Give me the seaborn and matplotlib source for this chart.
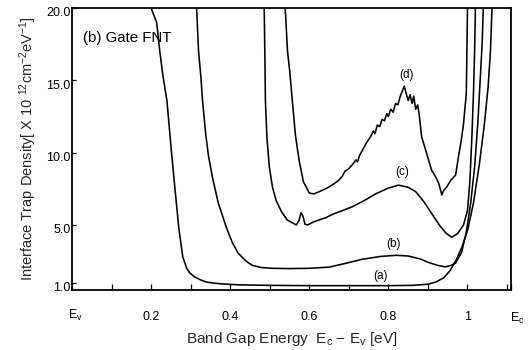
import numpy as np
import pandas as pd
import matplotlib
matplotlib.use("Agg")
import matplotlib.pyplot as plt
import matplotlib.transforms as mtransforms
import seaborn as sns

# ---- data ----
a_x = [0.20, 0.214, 0.222, 0.23, 0.24, 0.25, 0.26, 0.27, 0.28, 0.29, 0.297, 0.31, 0.325, 0.34,
       0.36, 0.38, 0.42, 0.5, 0.6, 0.7, 0.8, 0.86, 0.9, 0.92, 0.94, 0.955, 0.97, 0.985, 1.0,
       1.015, 1.03, 1.042, 1.052, 1.058, 1.062]
a_y = [20, 19.0, 17.0, 15.3, 13.6, 10.5, 7.6, 4.8, 2.8, 2.0, 1.7, 1.4, 1.2, 1.05,
       0.97, 0.92, 0.86, 0.82, 0.8, 0.8, 0.8, 0.82, 0.9, 1.05, 1.35, 1.8, 2.5, 3.4, 4.6,
       6.5, 9.2, 11.8, 14.5, 17, 20]

b_x = [0.315, 0.32, 0.326, 0.33, 0.338, 0.345, 0.355, 0.37, 0.39, 0.405, 0.42, 0.44, 0.456,
       0.48, 0.506, 0.55, 0.6, 0.65, 0.693, 0.733, 0.78, 0.82, 0.85, 0.88, 0.90, 0.925, 0.944,
       0.958, 0.97, 0.985, 0.997, 1.008, 1.018, 1.026, 1.032, 1.037, 1.04]
b_y = [20, 17, 15.2, 13.6, 11.3, 9.8, 8.3, 6.5, 4.85, 3.8, 3.05, 2.5, 2.2,
       2.05, 2.0, 1.98, 2.0, 2.08, 2.35, 2.62, 2.82, 2.9, 2.85, 2.65, 2.42, 2.2, 2.1,
       2.2, 2.36, 3.1, 4.5, 6.5, 9.0, 12.0, 15.0, 17.5, 20]

c_x = [0.486, 0.488, 0.489, 0.493, 0.499, 0.507, 0.516, 0.53, 0.544, 0.557, 0.567, 0.574,
       0.579, 0.584, 0.589, 0.596, 0.61, 0.625, 0.642, 0.66, 0.68, 0.708, 0.74, 0.768, 0.80,
       0.826, 0.85, 0.869, 0.89, 0.909, 0.93, 0.945, 0.96, 0.975, 0.99, 1.0, 1.006, 1.011,
       1.015, 1.018, 1.02]
c_y = [20, 16, 13.6, 11, 9.0, 7.6, 6.7, 5.9, 5.35, 5.15, 5.0, 5.3,
       5.85, 5.6, 5.05, 5.0, 5.2, 5.35, 5.5, 5.75, 5.95, 6.25, 6.7, 7.15, 7.55,
       7.75, 7.6, 7.3, 6.6, 5.8, 4.95, 4.45, 4.15, 4.4, 5.0, 6.0, 8.0, 11,
       14, 17, 20]

d_x = [0.539, 0.545, 0.551, 0.557, 0.565, 0.574, 0.585, 0.6, 0.612, 0.625, 0.645, 0.66, 0.675,
       0.683, 0.69, 0.70, 0.71, 0.718, 0.722, 0.727, 0.735, 0.745, 0.755, 0.762, 0.766, 0.772,
       0.778, 0.784, 0.79, 0.796, 0.80, 0.806, 0.812, 0.818, 0.824, 0.83, 0.836, 0.84, 0.845,
       0.85, 0.855, 0.86, 0.864, 0.869, 0.874, 0.878, 0.884, 0.894, 0.909, 0.92, 0.927, 0.932,
       0.935, 0.94, 0.947, 0.958, 0.97, 0.977, 0.984, 0.99, 0.997, 1.0]
d_y = [20, 17, 15.5, 13.6, 11.2, 9.5, 8.0, 7.2, 7.15, 7.3, 7.55, 7.8, 8.1,
       8.35, 8.7, 8.9, 9.2, 9.5, 9.35, 9.8, 10.2, 10.7, 11.1, 11.5, 11.3, 11.9,
       11.8, 12.3, 12.2, 12.7, 12.5, 13.0, 12.8, 13.4, 13.3, 13.9, 14.3, 14.6, 14.1,
       13.6, 14.0, 13.4, 13.9, 13.0, 13.3, 12.6, 11.1, 10.2, 8.8, 8.3, 7.9, 7.4,
       7.07, 7.4, 7.6, 8.1, 8.45, 9.7, 10.8, 12.0, 14.1, 20]

curve_names = ["(a)", "(b)", "(c)", "(d)"]
label_pos_x = [0.78, 0.814, 0.834, 0.846]
label_pos_y = [1.5, 3.7, 8.66, 15.4]

x_tick_vals = [0.0, 0.2, 0.4, 0.6, 0.8, 1.0, 1.11]
x_tick_labels = ["E$_\\mathregular{v}$", "0.2", "0.4", "0.6", "0.8", "1", "E$_\\mathregular{c}$"]
y_tick_vals = [1.0, 5.0, 10.0, 15.0, 20.0]
y_tick_labels = ["1.0", "5.0", "10.0", "15.0", "20.0"]

# ---- build long-form table ----
frames = []
for name, xs, ys in zip(curve_names, [a_x, b_x, c_x, d_x], [a_y, b_y, c_y, d_y]):
    frames.append(pd.DataFrame({"E": xs, "Dit": ys, "curve": name}))
df = pd.concat(frames, ignore_index=True)

sns.set_theme(style="ticks")
plt.rcParams["font.family"] = ["Liberation Sans", "DejaVu Sans"]
plt.rcParams["mathtext.fontset"] = "custom"
plt.rcParams["mathtext.rm"] = "Liberation Sans"
plt.rcParams["mathtext.it"] = "Liberation Sans"

fig = plt.figure(figsize=(5.31, 3.5), dpi=100)
ax = fig.add_axes([72 / 531, 1 - 290 / 350, (511 - 72) / 531, (290 - 8) / 350])

sns.lineplot(data=df, x="E", y="Dit", units="curve", estimator=None, sort=False,
             color="black", linewidth=1.15, ax=ax, legend=False)

ax.set_xlim(0, 1.11)
ax.set_ylim(0.5, 20)

for name, lx, ly in zip(curve_names, label_pos_x, label_pos_y):
    ax.text(lx, ly, name, ha="center", va="center", fontsize=8.5, color="black")

ax.text(0.025, 0.893, "(b) Gate FNT", transform=ax.transAxes, fontsize=10.8,
        ha="left", va="center", color="black")

ax.set_xticks(x_tick_vals)
ax.set_xticklabels(x_tick_labels, fontsize=9)
ax.set_xticks(np.arange(0.1, 1.11, 0.1), minor=True)
ax.set_yticks(y_tick_vals)
ax.set_yticklabels(y_tick_labels, fontsize=9)

ax.tick_params(axis="x", which="both", direction="in", length=4, width=0.9, pad=15, colors="black")
ax.tick_params(axis="y", which="both", direction="in", length=3, width=0.9, pad=1, colors="black")

yoff = mtransforms.ScaledTranslation(0, -4 / 100, fig.dpi_scale_trans)
for lab in ax.get_yticklabels():
    lab.set_transform(lab.get_transform() + yoff)
xlabs = ax.get_xticklabels()
xlabs[-1].set_transform(xlabs[-1].get_transform() +
                        mtransforms.ScaledTranslation(6 / 100, 0, fig.dpi_scale_trans))
xlabs[0].set_transform(xlabs[0].get_transform() +
                       mtransforms.ScaledTranslation(3 / 100, 3 / 100, fig.dpi_scale_trans))

for sp in ax.spines.values():
    sp.set_visible(True)
    sp.set_color("black")
    sp.set_linewidth(1.3)

ax.set_xlabel("Band Gap Energy  E$_\\mathregular{c}$ $-$ E$_\\mathregular{v}$ [eV]", fontsize=11, labelpad=3)
ax.set_ylabel("Interface Trap Density[ X 10 $^{\\mathregular{12}}$cm$^{\\mathregular{-2}}$eV$^{\\mathregular{-1}}$]",
              fontsize=10.5, labelpad=5)

fig.savefig("out.png", dpi=100)
